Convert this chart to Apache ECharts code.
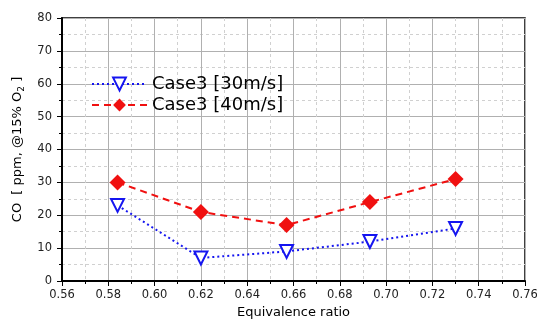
<!DOCTYPE html>
<html>
<head>
<meta charset="utf-8">
<script src="https://cdn.jsdelivr.net/npm/echarts@6/dist/echarts.min.js"></script>
<style>
  html, body { margin: 0; padding: 0; background: #fff; }
  #main { width: 537px; height: 320px; }
</style>
</head>
<body>
<div id="main"></div>
<script>
// data
const ratio = [0.584, 0.620, 0.657, 0.693, 0.730];
const case30 = [23, 7, 9, 12, 16];
const case40 = [30, 21, 17, 24, 31];
const seriesNames = ['Case3 [30m/s]', 'Case3 [40m/s]'];

const pair = (xs, ys) => xs.map((x, i) => [x, ys[i]]);

const myChart = echarts.init(document.getElementById('main'));

const font = 'DejaVu Sans, sans-serif';

const axisCommon = {
    axisLine: { show: true, lineStyle: { color: '#000', width: 2 } },
    axisTick: { show: true, inside: false, length: 5, lineStyle: { color: '#000', width: 1 } },
    minorTick: { show: true, splitNumber: 2, length: 3, lineStyle: { color: '#000' } },
    splitLine: { show: true, lineStyle: { color: '#b0b0b0', width: 1 } },
    minorSplitLine: { show: true, lineStyle: { color: '#d0d0d0', type: [3, 3], width: 1 } },
    axisLabel: { color: '#222', fontFamily: font, fontSize: 11.5 }
};

const option = {
    animation: false,
    grid: {
        left: 62, right: 12, top: 18, bottom: 39,
        outerBoundsMode: 'none',
        show: true, borderColor: '#000', borderWidth: 1.5, backgroundColor: 'transparent'
    },
    legend: {
        left: 86, top: 69,
        orient: 'vertical',
        itemWidth: 55, itemHeight: 16, itemGap: 1,
        textStyle: { fontFamily: font, fontSize: 18, color: '#000', lineHeight: 20 },
        data: seriesNames
    },
    xAxis: Object.assign({}, axisCommon, {
        type: 'value', min: 0.56, max: 0.76, interval: 0.02,
        name: 'Equivalence ratio', nameLocation: 'middle', nameGap: 25,
        nameTextStyle: { fontFamily: font, fontSize: 13, color: '#000' },
        axisLabel: Object.assign({}, axisCommon.axisLabel, {
            margin: 8, formatter: v => v.toFixed(2)
        })
    }),
    yAxis: Object.assign({}, axisCommon, {
        type: 'value', min: 0, max: 80, interval: 10,
        name: '{n|CO  [ ppm, @15% O}{s|2}{n| ]}', nameLocation: 'middle', nameGap: 36,
        nameTextStyle: {
            rich: {
                n: { fontFamily: font, fontSize: 13, color: '#000' },
                s: { fontFamily: font, fontSize: 9, color: '#000', verticalAlign: 'bottom', padding: [8, 0, 0, 0] }
            }
        },
        axisLabel: Object.assign({}, axisCommon.axisLabel, { margin: 10 })
    }),
    series: [{
        name: seriesNames[0],
        type: 'line',
        data: pair(ratio, case30),
        symbol: 'triangle',
        symbolRotate: 180,
        symbolSize: 13,
        lineStyle: { color: '#1515f0', width: 2, type: [2, 3] },
        itemStyle: { color: '#fff', borderColor: '#1515f0', borderWidth: 2 }
    }, {
        name: seriesNames[1],
        type: 'line',
        data: pair(ratio, case40),
        symbol: 'diamond',
        symbolSize: 16,
        lineStyle: { color: '#f01010', width: 2, type: [7, 5] },
        itemStyle: { color: '#f01010', borderColor: '#f01010', borderWidth: 0 }
    }]
};

myChart.setOption(option);
</script>
</body>
</html>
